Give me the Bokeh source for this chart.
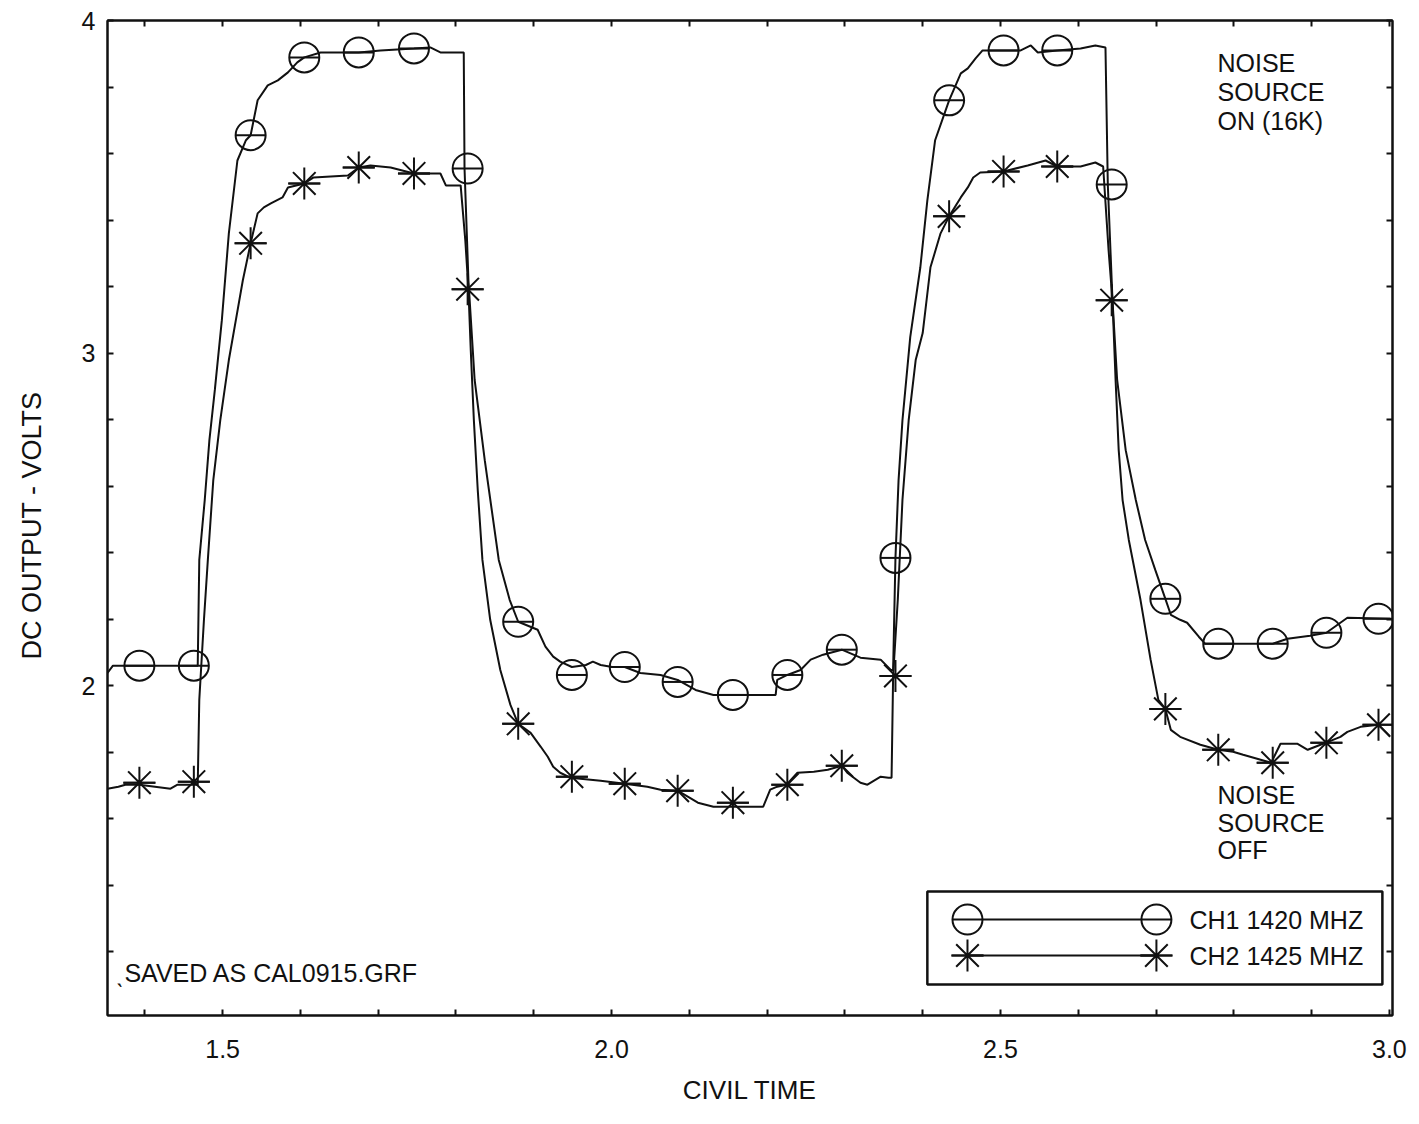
from bokeh.plotting import figure
from bokeh.models import (Range1d, FixedTicker, LinearAxis, Label, BoxAnnotation,
                          ColumnDataSource)
from bokeh.embed import file_html
from bokeh.resources import INLINE

# ---------------- data ----------------
marker_time = [1.393, 1.463, 1.536, 1.605, 1.675, 1.746, 1.815, 1.880, 1.949, 2.017,
               2.085, 2.156, 2.226, 2.296, 2.365, 2.434, 2.504, 2.573, 2.643, 2.712,
               2.780, 2.850, 2.919, 2.986]
ch1_marker_volts = [2.060, 2.060, 3.655, 3.889, 3.904, 3.916, 3.555, 2.192, 2.032, 2.056,
                    2.011, 1.972, 2.032, 2.108, 2.384, 3.760, 3.910, 3.910, 3.507, 2.261,
                    2.126, 2.126, 2.159, 2.201]
ch2_marker_volts = [1.708, 1.711, 3.330, 3.510, 3.558, 3.540, 3.192, 1.885, 1.726, 1.705,
                    1.684, 1.648, 1.702, 1.759, 2.029, 3.411, 3.546, 3.561, 3.159, 1.930,
                    1.807, 1.768, 1.828, 1.882]

ch1_trace_time = [1.352, 1.359, 1.468, 1.470, 1.477, 1.483, 1.490, 1.499, 1.508, 1.519,
                  1.530, 1.536, 1.545, 1.558, 1.571, 1.584, 1.596, 1.605, 1.626, 1.675,
                  1.703, 1.746, 1.767, 1.780, 1.810, 1.811, 1.816, 1.824, 1.837, 1.855,
                  1.869, 1.880, 1.905, 1.915, 1.925, 1.934, 1.949, 1.967, 1.976, 1.986,
                  2.001, 2.017, 2.037, 2.063, 2.085, 2.108, 2.131, 2.211, 2.213, 2.226,
                  2.243, 2.256, 2.272, 2.296, 2.320, 2.346, 2.359, 2.362, 2.365, 2.369,
                  2.374, 2.384, 2.397, 2.406, 2.416, 2.434, 2.449, 2.458, 2.468, 2.477,
                  2.526, 2.539, 2.548, 2.573, 2.603, 2.622, 2.635, 2.638, 2.644, 2.650,
                  2.661, 2.674, 2.686, 2.699, 2.712, 2.719, 2.731, 2.740, 2.755, 2.763,
                  2.850, 2.869, 2.898, 2.919, 2.946, 3.001]
ch1_trace_volts = [2.038, 2.060, 2.060, 2.378, 2.558, 2.738, 2.889, 3.099, 3.360, 3.579,
                   3.640, 3.655, 3.760, 3.805, 3.820, 3.844, 3.874, 3.889, 3.904, 3.904,
                   3.910, 3.916, 3.919, 3.904, 3.904, 3.555, 3.219, 2.919, 2.678, 2.378,
                   2.258, 2.192, 2.168, 2.117, 2.087, 2.072, 2.056, 2.062, 2.072, 2.062,
                   2.056, 2.056, 2.038, 2.032, 2.017, 1.987, 1.972, 1.972, 2.017, 2.032,
                   2.047, 2.078, 2.093, 2.108, 2.084, 2.078, 2.047, 2.047, 2.384, 2.618,
                   2.798, 3.048, 3.258, 3.459, 3.640, 3.760, 3.841, 3.856, 3.886, 3.910,
                   3.910, 3.925, 3.904, 3.910, 3.916, 3.925, 3.919, 3.507, 3.159, 2.919,
                   2.708, 2.558, 2.438, 2.348, 2.261, 2.213, 2.198, 2.189, 2.147, 2.126,
                   2.126, 2.141, 2.150, 2.159, 2.204, 2.201]

ch2_trace_time = [1.352, 1.366, 1.375, 1.393, 1.433, 1.442, 1.468, 1.470, 1.476, 1.481,
                  1.488, 1.497, 1.508, 1.517, 1.526, 1.536, 1.545, 1.553, 1.562, 1.577,
                  1.584, 1.605, 1.617, 1.661, 1.675, 1.690, 1.716, 1.746, 1.780, 1.787,
                  1.806, 1.812, 1.816, 1.819, 1.823, 1.828, 1.834, 1.844, 1.857, 1.870,
                  1.880, 1.896, 1.909, 1.918, 1.925, 1.934, 1.947, 1.973, 1.986, 2.017,
                  2.046, 2.063, 2.085, 2.098, 2.111, 2.131, 2.195, 2.204, 2.213, 2.225,
                  2.239, 2.260, 2.278, 2.296, 2.303, 2.320, 2.329, 2.346, 2.356, 2.360,
                  2.362, 2.368, 2.374, 2.382, 2.391, 2.400, 2.410, 2.423, 2.434, 2.449,
                  2.458, 2.465, 2.474, 2.504, 2.535, 2.558, 2.573, 2.603, 2.622, 2.632,
                  2.639, 2.644, 2.648, 2.652, 2.657, 2.665, 2.680, 2.693, 2.703, 2.712,
                  2.719, 2.731, 2.757, 2.780, 2.799, 2.812, 2.848, 2.860, 2.882, 2.895,
                  2.918, 2.937, 2.946, 2.963, 2.986, 3.001]
ch2_trace_volts = [1.690, 1.696, 1.702, 1.702, 1.690, 1.702, 1.702, 1.957, 2.198, 2.378,
                   2.618, 2.798, 2.979, 3.099, 3.219, 3.330, 3.420, 3.438, 3.450, 3.468,
                   3.498, 3.510, 3.528, 3.534, 3.558, 3.564, 3.558, 3.540, 3.540, 3.504,
                   3.504, 3.339, 3.192, 3.009, 2.798, 2.588, 2.378, 2.198, 2.047, 1.942,
                   1.885, 1.858, 1.816, 1.786, 1.756, 1.738, 1.723, 1.717, 1.714, 1.705,
                   1.696, 1.687, 1.684, 1.666, 1.648, 1.636, 1.636, 1.687, 1.696, 1.702,
                   1.738, 1.741, 1.747, 1.759, 1.738, 1.708, 1.702, 1.726, 1.723, 1.723,
                   2.029, 2.258, 2.558, 2.798, 2.979, 3.060, 3.258, 3.360, 3.411, 3.468,
                   3.498, 3.528, 3.543, 3.546, 3.564, 3.579, 3.561, 3.561, 3.573, 3.561,
                   3.309, 3.159, 2.919, 2.708, 2.558, 2.438, 2.258, 2.078, 1.957, 1.930,
                   1.867, 1.846, 1.822, 1.807, 1.801, 1.792, 1.768, 1.825, 1.825, 1.807,
                   1.828, 1.846, 1.861, 1.876, 1.882, 1.846]

x_major_ticks = [1.5, 2.0, 2.5, 3.0]
x_tick_labels = ["1.5", "2.0", "2.5", "3.0"]
x_minor_ticks = [1.4, 1.6, 1.7, 1.8, 1.9, 2.1, 2.2, 2.3, 2.4, 2.6, 2.7, 2.8, 2.9]
y_major_ticks = [2, 3, 4]
y_tick_labels = ["2", "3", "4"]
y_minor_ticks = [1.2, 1.4, 1.6, 1.8, 2.2, 2.4, 2.6, 2.8, 3.2, 3.4, 3.6, 3.8]

series_names = ["CH1 1420 MHZ", "CH2 1425 MHZ"]

# ---------------- figure ----------------
FONT = "Liberation Sans"
INK = "#111111"

p = figure(width=1419, height=1124, output_backend="svg", toolbar_location=None,
           x_range=Range1d(1.352, 3.004), y_range=Range1d(1.008, 4.0),
           min_border_left=107, min_border_right=27, min_border_top=20,
           min_border_bottom=109)
p.background_fill_color = "white"
p.border_fill_color = "white"
p.grid.visible = False
p.outline_line_color = INK
p.outline_line_width = 2


def style_axis(ax):
    ax.axis_line_color = INK
    ax.axis_line_width = 2
    ax.major_tick_in = 6
    ax.major_tick_out = 0
    ax.minor_tick_in = 6
    ax.minor_tick_out = 0
    ax.major_tick_line_color = INK
    ax.minor_tick_line_color = INK
    ax.major_tick_line_width = 2
    ax.minor_tick_line_width = 2
    ax.major_label_text_font = FONT
    ax.major_label_text_color = INK


xa = p.xaxis[0]
xa.ticker = FixedTicker(ticks=x_major_ticks, minor_ticks=x_minor_ticks)
xa.major_label_overrides = {t: s for t, s in zip(x_major_ticks, x_tick_labels)}
style_axis(xa)
xa.major_label_text_font_size = "25px"
xa.major_label_standoff = 24
xa.axis_label = "CIVIL TIME"
xa.axis_label_text_font = FONT
xa.axis_label_text_font_size = "26px"
xa.axis_label_text_font_style = "normal"
xa.axis_label_text_color = INK
xa.axis_label_standoff = 14

ya = p.yaxis[0]
ya.ticker = FixedTicker(ticks=y_major_ticks, minor_ticks=y_minor_ticks)
ya.major_label_overrides = {t: s for t, s in zip(y_major_ticks, y_tick_labels)}
style_axis(ya)
ya.major_label_text_font_size = "25px"
ya.major_label_standoff = 12
ya.major_label_orientation = "horizontal"
ya.axis_label = "DC OUTPUT  -  VOLTS"
ya.axis_label_text_font = FONT
ya.axis_label_text_font_size = "27px"
ya.axis_label_text_font_style = "normal"
ya.axis_label_text_color = INK
ya.axis_label_standoff = 32

# mirrored tick marks on the top and right frame (no labels: all ticks as minor)
top_axis = LinearAxis(ticker=FixedTicker(ticks=[], minor_ticks=x_major_ticks + x_minor_ticks))
style_axis(top_axis)
p.add_layout(top_axis, "above")
right_axis = LinearAxis(ticker=FixedTicker(ticks=[], minor_ticks=y_major_ticks + y_minor_ticks))
style_axis(right_axis)
p.add_layout(right_axis, "right")

# ---------------- traces ----------------
p.line(ch1_trace_time, ch1_trace_volts, line_color=INK, line_width=2)
p.line(ch2_trace_time, ch2_trace_volts, line_color=INK, line_width=2)

src1 = ColumnDataSource(dict(t=marker_time, v=ch1_marker_volts))
src2 = ColumnDataSource(dict(t=marker_time, v=ch2_marker_volts))
p.scatter("t", "v", source=src1, marker="circle", size=30, fill_color=None,
          line_color=INK, line_width=2)
p.scatter("t", "v", source=src1, marker="dash", size=30, line_color=INK, line_width=2)
p.scatter("t", "v", source=src2, marker="asterisk", size=32, line_color=INK, line_width=2)
p.scatter("t", "v", source=src2, marker="dash", size=32, line_color=INK, line_width=2)

# ---------------- annotations ----------------
def add_label(x, y, text, size="25px"):
    p.add_layout(Label(x=x, y=y, text=text, text_font=FONT, text_font_size=size,
                       text_color=INK, text_align="left", text_baseline="middle"))

for yy, txt in zip([3.871, 3.784, 3.697], ["NOISE", "SOURCE", "ON (16K)"]):
    add_label(2.779, yy, txt)
for yy, txt in zip([1.672, 1.588, 1.507], ["NOISE", "SOURCE", "OFF"]):
    add_label(2.779, yy, txt)
add_label(1.363, 1.137, "\u02ceSAVED AS CAL0915.GRF", size="25px")

# legend (drawn by hand: marker - line - marker, then the series name)
leg_box = BoxAnnotation(left=2.406, right=2.991, top=1.381, bottom=1.101,
                        fill_alpha=0.0, line_color=INK, line_alpha=1.0, line_width=2.5)
p.add_layout(leg_box)
leg_x0, leg_x1, leg_tx = 2.4576, 2.7005, 2.743
leg_rows = [1.2965, 1.1884]
p.line([leg_x0, leg_x1], [leg_rows[0], leg_rows[0]], line_color=INK, line_width=2)
p.line([leg_x0, leg_x1], [leg_rows[1], leg_rows[1]], line_color=INK, line_width=2)
p.scatter([leg_x0, leg_x1], [leg_rows[0]] * 2, marker="circle", size=30,
          fill_color="white", line_color=INK, line_width=2)
p.scatter([leg_x0, leg_x1], [leg_rows[0]] * 2, marker="dash", size=30,
          line_color=INK, line_width=2)
p.scatter([leg_x0, leg_x1], [leg_rows[1]] * 2, marker="asterisk", size=32,
          line_color=INK, line_width=2)
p.scatter([leg_x0, leg_x1], [leg_rows[1]] * 2, marker="dash", size=32,
          line_color=INK, line_width=2)
add_label(leg_tx, leg_rows[0], series_names[0], size="25px")
add_label(leg_tx, leg_rows[1], series_names[1], size="25px")

open("out.html", "w").write(file_html(p, INLINE))
